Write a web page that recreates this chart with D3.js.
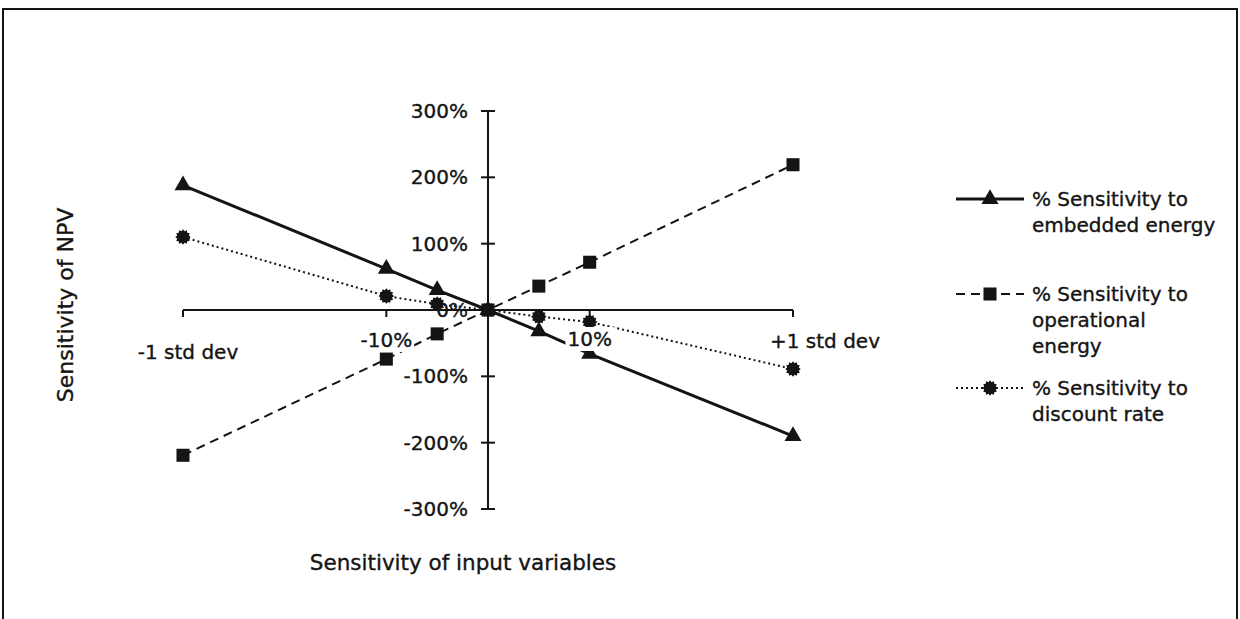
<!DOCTYPE html>
<html>
<head>
<meta charset="utf-8">
<style>
  body { margin: 0; background: #fff; }
  text { font-family: "DejaVu Sans", sans-serif; fill: #141414; stroke: #141414; stroke-width: 0.35px; }
</style>
</head>
<body>
<script src="https://cdn.jsdelivr.net/npm/d3@7/dist/d3.min.js"></script>
<script>
// data (x in % change, -1/+1 std dev plotted at -30/+30)
const xVals = [-30, -10, -5, 0, 5, 10, 30]
const embedded = [188, 62, 30, 0, -32, -66, -190]
const operational = [-219, -74, -36, 0, 36, 72, 219]
const discount = [110, 21, 9, 0, -10, -18, -89]
const xTickVals = [-30, -10, 10, 30]
const xTickLabels = ["-1 std dev", "-10%", "10%", "+1 std dev"]
const yTickVals = [-300, -200, -100, 0, 100, 200, 300]
const seriesNames = [
  ["% Sensitivity to", "embedded energy"],
  ["% Sensitivity to", "operational", "energy"],
  ["% Sensitivity to", "discount rate"]
]

const W = 1240, H = 619
const ink = "#141414"
const svg = d3.select("body").append("svg")
    .attr("width", W).attr("height", H)

// outer frame
svg.append("rect")
    .attr("x", 3).attr("y", 9).attr("width", 1234).attr("height", 640)
    .attr("fill", "none").attr("stroke", ink).attr("stroke-width", 2)

const x = d3.scaleLinear().domain([-30, 30]).range([183, 793])
const y = d3.scaleLinear().domain([-300, 300]).range([509, 111])

// burst marker used for the discount rate series
const burst = {
  draw(ctx, size) {
    const r = Math.sqrt(size) / 2, n = 12
    for (let i = 0; i < n * 2; i++) {
      const a = i * Math.PI / n
      const rr = i % 2 ? r * 0.78 : r
      const px = rr * Math.sin(a), py = -rr * Math.cos(a)
      i ? ctx.lineTo(px, py) : ctx.moveTo(px, py)
    }
    ctx.closePath()
  }
}

const series = [
  {values: embedded, dash: null, width: 3, symbol: d3.symbolTriangle, size: 125},
  {values: operational, dash: "9,6", width: 2, symbol: d3.symbolSquare, size: 170},
  {values: discount, dash: "2,3", width: 2, symbol: burst, size: 240}
]

// y axis (ticks crossing the line)
const yAxis = svg.append("g")
yAxis.append("line")
    .attr("x1", x(0)).attr("x2", x(0)).attr("y1", y(-300)).attr("y2", y(300))
    .attr("stroke", ink).attr("stroke-width", 2)
yAxis.selectAll(".yt").data(yTickVals).join("line")
    .attr("x1", x(0) - 7).attr("x2", x(0) + 7)
    .attr("y1", d => y(d)).attr("y2", d => y(d))
    .attr("stroke", ink).attr("stroke-width", 2)
yAxis.selectAll(".yl").data(yTickVals).join("text")
    .attr("x", x(0) - 20).attr("y", d => y(d))
    .attr("dy", "0.35em").attr("text-anchor", "end")
    .attr("font-size", 20)
    .text(d => d + "%")

// x axis line and ticks
const xAxis = svg.append("g")
xAxis.append("line")
    .attr("x1", x(-30)).attr("x2", x(30)).attr("y1", y(0)).attr("y2", y(0))
    .attr("stroke", ink).attr("stroke-width", 2)
xAxis.selectAll(".xt").data(xTickVals).join("line")
    .attr("x1", d => x(d)).attr("x2", d => x(d))
    .attr("y1", y(0)).attr("y2", y(0) + 7)
    .attr("stroke", ink).attr("stroke-width", 2)

// series
const line = d3.line().x((d, i) => x(xVals[i])).y(d => y(d))
series.forEach(s => {
  svg.append("path")
      .attr("d", line(s.values))
      .attr("fill", "none").attr("stroke", ink)
      .attr("stroke-width", s.width)
      .attr("stroke-dasharray", s.dash)
  svg.selectAll(null).data(s.values).join("path")
      .attr("transform", (d, i) => `translate(${x(xVals[i])},${y(d)})`)
      .attr("d", d3.symbol().type(s.symbol).size(s.size))
      .attr("fill", ink)
})

// x tick labels sit on a white box, over the lines
const labelShift = [5, 0, 0, 32]
const labelDrop = [42, 30, 29, 31]
const xl = svg.append("g").selectAll("g").data(xTickVals).join("g")
    .attr("transform", (d, i) => `translate(${x(d) + labelShift[i]},${y(0) + labelDrop[i]})`)
xl.append("text")
    .attr("text-anchor", "middle").attr("dy", "0.35em")
    .attr("font-size", 20)
    .text((d, i) => xTickLabels[i])
xl.each(function() {
  const g = d3.select(this), b = g.select("text").node().getBBox()
  g.insert("rect", "text")
      .attr("x", b.x - 2).attr("y", b.y).attr("width", b.width + 4).attr("height", b.height)
      .attr("fill", "#fff")
})

// axis titles
svg.append("text")
    .attr("x", 463).attr("y", 570).attr("text-anchor", "middle")
    .attr("font-size", 21.5)
    .text("Sensitivity of input variables")
svg.append("text")
    .attr("transform", "translate(65,305) rotate(-90)")
    .attr("text-anchor", "middle").attr("dy", "0.35em")
    .attr("font-size", 22)
    .text("Sensitivity of NPV")

// legend
const legendY = [199, 294, 388]
const lg = svg.append("g").selectAll("g").data(series).join("g")
    .attr("transform", (d, i) => `translate(956,${legendY[i]})`)
lg.append("line")
    .attr("x1", 0).attr("x2", 68).attr("y1", 0).attr("y2", 0)
    .attr("stroke", ink)
    .attr("stroke-width", d => d.width)
    .attr("stroke-dasharray", d => d.dash)
lg.append("path")
    .attr("transform", "translate(34,0)")
    .attr("d", d => d3.symbol().type(d.symbol).size(d.size)())
    .attr("fill", ink)
lg.append("text")
    .attr("x", 76).attr("font-size", 20)
    .selectAll("tspan").data((d, i) => seriesNames[i]).join("tspan")
    .attr("x", 76).attr("y", (d, i) => i * 26)
    .attr("dy", "0.35em")
    .text(d => d)
</script>
</body>
</html>
